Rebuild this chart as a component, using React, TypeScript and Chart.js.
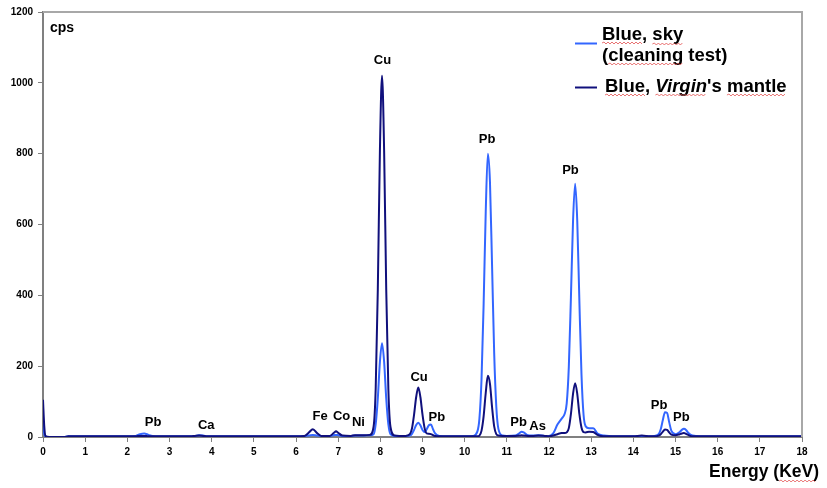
import React, { useEffect, useRef } from 'react';
import { Chart, registerables } from 'chart.js';

Chart.register(...registerables);

// Energy (keV) sample positions
const energies = [
  0, 0.03, 0.06, 0.15, 0.5, 0.6, 1.0, 1.5, 2.0, 2.2, 2.3, 2.4, 2.5, 2.6, 3.0, 3.5, 3.6, 3.7, 3.8, 3.9,
  4.5, 5.0, 5.5, 6.0, 6.2, 6.3, 6.4, 6.5, 6.6, 6.8, 6.9, 6.95, 7.0, 7.1, 7.3, 7.4, 7.5, 7.6, 7.75,
  7.84, 7.89, 7.94, 7.99, 8.04, 8.09, 8.14, 8.19, 8.24, 8.34, 8.45, 8.6,
  8.7, 8.75, 8.8, 8.85, 8.9, 8.95, 9.0, 9.05, 9.1, 9.15, 9.2, 9.25, 9.3, 9.4, 9.6, 10.0,
  10.2, 10.3, 10.35, 10.4, 10.45, 10.5, 10.55, 10.6, 10.65, 10.7, 10.75, 10.8, 10.9,
  11.0, 11.2, 11.3, 11.35, 11.4, 11.5, 11.6, 11.75, 11.9,
  12.0, 12.1, 12.2, 12.3, 12.37, 12.42, 12.47, 12.52, 12.57, 12.62, 12.67, 12.72, 12.77, 12.82, 12.87,
  12.95, 13.05, 13.15, 13.3, 13.6, 14.0, 14.2, 14.4,
  14.5, 14.6, 14.65, 14.7, 14.75, 14.8, 14.85, 14.9, 15.0, 15.1, 15.15, 15.2, 15.25, 15.3, 15.4,
  15.6, 16.0, 17.0, 18.0,
];

// "Blue, sky (cleaning test)" counts (cps)
const skyCounts = [
  40, 8, 1, 0, 0, 2, 2, 2, 2, 3, 8, 10, 6, 3, 2, 2, 3, 5, 4, 2,
  2, 2, 2, 2, 3, 4, 6, 4, 3, 3, 5, 6, 5, 3, 3, 4, 4, 4, 5,
  8, 36, 109, 212, 265, 212, 109, 36, 8, 3, 3, 3,
  4, 9, 20, 34, 40, 33, 20, 14, 22, 33, 35, 22, 10, 3, 2, 2,
  3, 15, 52, 164, 377, 637, 800, 720, 482, 237, 86, 23, 4,
  3, 4, 11, 15, 13, 5, 4, 5, 3,
  3, 10, 35, 52, 65, 95, 198, 395, 610, 715, 610, 385, 178, 62, 30,
  25, 25, 10, 4, 2, 2, 3, 2,
  3, 8, 22, 48, 70, 68, 42, 18, 8, 14, 20, 23, 20, 12, 4,
  2, 2, 2, 2,
];

// "Blue, Virgin's mantle" counts (cps)
const mantleCounts = [
  105, 30, 3, 0, 0, 2, 2, 2, 2, 2, 3, 3, 2, 2, 2, 2, 3, 4, 3, 2,
  2, 2, 2, 2, 3, 12, 22, 11, 3, 3, 12, 16, 12, 4, 3, 5, 5, 5, 6,
  29, 137, 415, 808, 1020, 808, 415, 137, 29, 4, 3, 3,
  8, 24, 63, 113, 140, 113, 63, 25, 10, 9, 8, 5, 3, 2, 2, 2,
  2, 2, 4, 18, 59, 125, 173, 150, 84, 30, 8, 4, 3,
  3, 3, 4, 5, 4, 3, 3, 4, 3,
  2, 4, 8, 11, 11, 13, 25, 65, 122, 152, 122, 65, 27, 14, 13,
  15, 14, 6, 2, 2, 2, 4, 2,
  2, 4, 8, 15, 21, 20, 13, 7, 5, 8, 10, 11, 9, 6, 2,
  2, 2, 2, 2,
];

// Peak annotations: element, energy (keV), cps position of label centre
const peakNames = ['Pb', 'Ca', 'Fe', 'Co', 'Ni', 'Cu', 'Cu', 'Pb', 'Pb', 'Pb', 'As', 'Pb', 'Pb', 'Pb'];
const peakEnergies = [2.61, 3.87, 6.57, 7.08, 7.48, 8.05, 8.92, 9.34, 10.53, 11.28, 11.73, 12.51, 14.61, 15.14];
const peakLabelCps = [41, 32, 59, 59, 40, 1062, 167, 55, 839, 41, 31, 754, 88, 56];

const seriesNames = ['Blue, sky', '(cleaning test)', 'Blue, ', 'Virgin', "'s mantle"];
const xAxisTitle = 'Energy (KeV)';
const yAxisUnit = 'cps';

const FONT = '"Liberation Sans", Arial, Helvetica, sans-serif';
const SKY = '#3366ff';
const MANTLE = '#10107c';

function wavy(ctx: CanvasRenderingContext2D, x1: number, x2: number, y: number) {
  ctx.save();
  ctx.strokeStyle = 'rgba(225,70,70,0.75)';
  ctx.lineWidth = 1;
  ctx.beginPath();
  let up = true;
  ctx.moveTo(x1, y);
  for (let x = x1 + 2; x <= x2; x += 2) {
    ctx.lineTo(x, up ? y - 1 : y + 1);
    up = !up;
  }
  ctx.stroke();
  ctx.restore();
}

const overlayPlugin = {
  id: 'overlay',
  afterDraw(chart: any) {
    const { ctx, chartArea, scales } = chart;
    const xs = scales.x;
    const ys = scales.y;
    ctx.save();
    // top & right frame
    ctx.strokeStyle = '#a8a8a8';
    ctx.lineWidth = 2;
    ctx.beginPath();
    ctx.moveTo(chartArea.left, chartArea.top);
    ctx.lineTo(chartArea.right, chartArea.top);
    ctx.lineTo(chartArea.right, chartArea.bottom);
    ctx.stroke();

    // peak labels
    ctx.fillStyle = '#000';
    ctx.font = `bold 13px ${FONT}`;
    ctx.textAlign = 'center';
    ctx.textBaseline = 'middle';
    for (let i = 0; i < peakNames.length; i++) {
      ctx.fillText(peakNames[i], xs.getPixelForValue(peakEnergies[i]), ys.getPixelForValue(peakLabelCps[i]));
    }

    // unit label
    ctx.textAlign = 'left';
    ctx.textBaseline = 'alphabetic';
    ctx.font = `bold 14px ${FONT}`;
    ctx.fillText(yAxisUnit, chartArea.left + 7, chartArea.top + 20);

    // axis title
    ctx.font = `bold 17.5px ${FONT}`;
    ctx.textAlign = 'right';
    ctx.fillText(xAxisTitle, 819, 477);
    const tw = ctx.measureText('KeV)').width;
    wavy(ctx, 819 - tw, 817, 481);

    // legend
    ctx.lineWidth = 2;
    ctx.strokeStyle = SKY;
    ctx.beginPath();
    ctx.moveTo(575, 43.5);
    ctx.lineTo(597, 43.5);
    ctx.stroke();
    ctx.strokeStyle = MANTLE;
    ctx.beginPath();
    ctx.moveTo(575, 87.5);
    ctx.lineTo(597, 87.5);
    ctx.stroke();

    ctx.textAlign = 'left';
    ctx.fillStyle = '#000';
    const f = `bold 18.5px ${FONT}`;
    const fi = `italic bold 18.5px ${FONT}`;
    ctx.font = f;
    ctx.fillText(seriesNames[0], 602, 40);
    ctx.fillText(seriesNames[1], 602, 61);
    let x = 605;
    ctx.fillText(seriesNames[2], x, 92);
    const wBlue = ctx.measureText('Blue').width;
    x += ctx.measureText(seriesNames[2]).width;
    ctx.font = fi;
    ctx.fillText(seriesNames[3], x, 92);
    const xV = x;
    const wV = ctx.measureText(seriesNames[3]).width;
    x += wV;
    ctx.font = f;
    ctx.fillText(seriesNames[4], x, 92);
    const wMant = ctx.measureText('mantle').width;
    const wAll = ctx.measureText(seriesNames[4]).width;
    // spell-check squiggles
    ctx.font = f;
    wavy(ctx, 602, 602 + ctx.measureText('Blue').width, 43);
    const skyX = 602 + ctx.measureText('Blue, ').width;
    wavy(ctx, skyX, skyX + ctx.measureText('sky').width, 44);
    const clX = 602 + ctx.measureText('(').width;
    wavy(ctx, clX, clX + ctx.measureText('cleaning').width, 64);
    wavy(ctx, 605, 605 + wBlue, 95);
    wavy(ctx, xV, xV + wV, 95);
    wavy(ctx, x + wAll - wMant, x + wAll, 95);
    ctx.restore();
  },
};

export default function App() {
  const canvasRef = useRef<HTMLCanvasElement | null>(null);

  useEffect(() => {
    if (!canvasRef.current) return;
    const tickFont = { family: FONT, size: 10, weight: 'bold' as const };
    const chart = new Chart(canvasRef.current, {
      type: 'line',
      data: {
        datasets: [
          {
            label: 'Blue, Virgin\'s mantle',
            data: energies.map((e, i) => ({ x: e, y: mantleCounts[i] })),
            borderColor: MANTLE,
            borderWidth: 2,
            pointRadius: 0,
            fill: false,
            cubicInterpolationMode: 'monotone',
          },
          {
            label: 'Blue, sky (cleaning test)',
            data: energies.map((e, i) => ({ x: e, y: skyCounts[i] })),
            borderColor: SKY,
            borderWidth: 2,
            pointRadius: 0,
            fill: false,
            cubicInterpolationMode: 'monotone',
          },
        ],
      },
      options: {
        responsive: false,
        animation: false,
        layout: { padding: { top: 12, right: 25, left: 0, bottom: 0 } },
        plugins: { legend: { display: false }, tooltip: { enabled: false } },
        elements: { point: { radius: 0 } },
        scales: {
          x: {
            type: 'linear',
            min: 0,
            max: 18,
            afterFit: (s: any) => {
              s.height = 51;
            },
            ticks: {
              stepSize: 1,
              color: '#000',
              font: tickFont,
              padding: 4,
              maxRotation: 0,
              autoSkip: false,
              callback: (v: any) => String(v),
            },
            grid: { drawOnChartArea: false, drawTicks: true, tickLength: 5, color: '#808080', lineWidth: 1 },
            border: { color: '#808080', width: 2 },
          },
          y: {
            min: 0,
            max: 1200,
            afterFit: (s: any) => {
              s.width = 43;
            },
            ticks: { stepSize: 200, color: '#000', font: tickFont, padding: 5, callback: (v: any) => String(v) },
            grid: { drawOnChartArea: false, drawTicks: true, tickLength: 5, color: '#808080', lineWidth: 1 },
            border: { color: '#808080', width: 2 },
          },
        },
      },
      plugins: [overlayPlugin],
    } as any);
    return () => chart.destroy();
  }, []);

  return (
    <div style={{ position: 'fixed', left: 0, top: 0, width: 827, height: 488, background: '#fff' }}>
      <canvas ref={canvasRef} width={827} height={488} style={{ display: 'block' }} />
    </div>
  );
}
